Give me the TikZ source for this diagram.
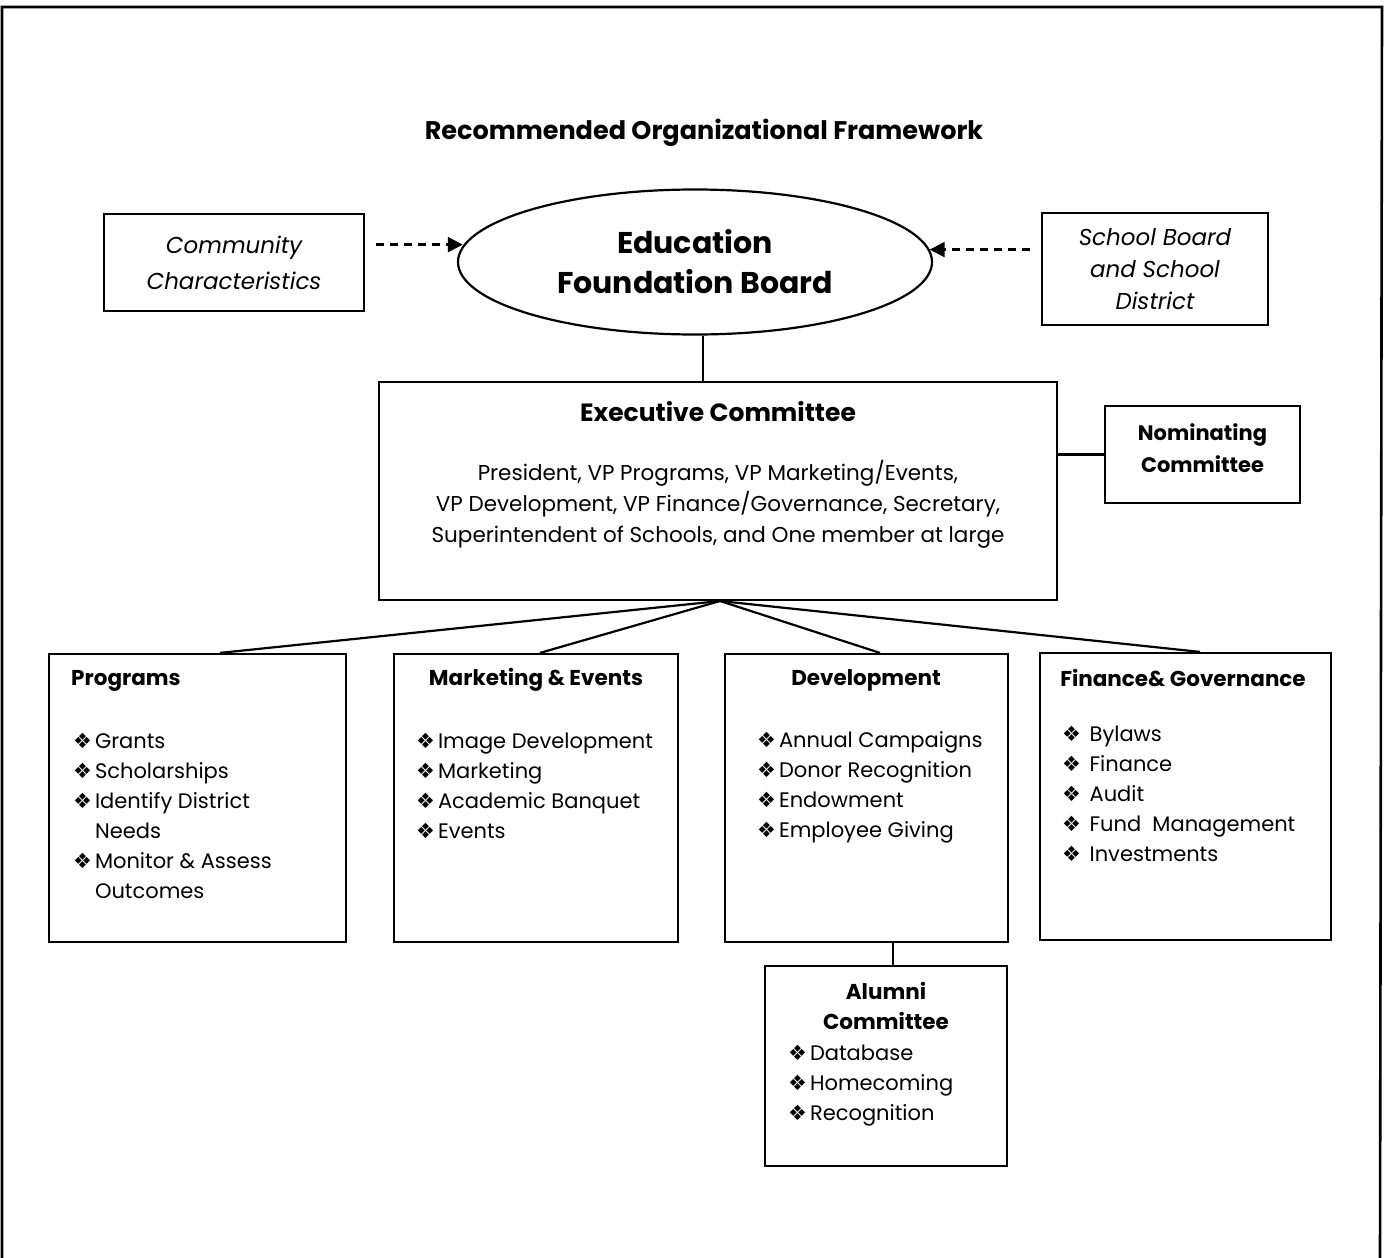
\documentclass[tikz,border=0pt]{standalone}
\usepackage{fontspec}
\setmainfont{Poppins}
\newfontfamily\symfont{DejaVu Sans}
\usetikzlibrary{shapes.geometric,arrows.meta,calc}
\newcommand{\bul}{{\symfont\fontsize{21}{21}\selectfont\char"2756}\kern3pt}
\newcommand{\nobul}{\phantom{\bul}}
\begin{document}
\begin{tikzpicture}[x=1pt,y=-1pt,
  frame/.style={line width=2.6pt},
  box/.style={draw, line width=2.2pt, rectangle, inner sep=0pt},
  conn/.style={line width=2.2pt},
  darrow/.style={line width=2.4pt, dash pattern=on 8pt off 6pt, shorten <=11pt, -{Triangle[length=15pt,width=15pt]}},
  body/.style={inner sep=0pt, font=\fontsize{21}{30}\selectfont},
  head/.style={inner sep=0pt, font=\fontsize{21.5}{30}\selectfont\bfseries},
  lst/.style={body, align=left, anchor=base west},
]
\useasboundingbox (0,0) rectangle (1385,1258);
\fill[white] (0,0) rectangle (1385,1258);
% outer frame (open at bottom)
\draw[frame] (2,1258) -- (2,7) -- (1382,7) -- (1380,1258);

% title
\node[inner sep=0pt, font=\fontsize{25.5}{30}\selectfont\bfseries] (title) at (704,133) {Recommended Organizational Framework};

% top row
\node[box, minimum width=260pt, minimum height=97pt, align=center,
      font=\fontsize{23}{36}\selectfont\itshape] (cc) at (234,262.5) {Community\\Characteristics};
\node[draw, line width=2.2pt, ellipse, minimum width=474pt, minimum height=145pt, inner sep=0pt,
      align=center, font=\fontsize{30}{40}\selectfont\bfseries] (efb) at (695,262) {Education\\Foundation Board};
\node[box, minimum width=226pt, minimum height=112pt, align=center,
      font=\fontsize{23}{32}\selectfont\itshape] (sb) at (1155,269) {School Board\\and School\\District};

\draw[darrow] ($(cc.north east)!0.32!(cc.south east)$) coordinate (ca) -- (ca -| efb.176);
\draw[darrow] ($(sb.north west)!0.33!(sb.south west)$) coordinate (sa) -- (sa -| efb.3);

% executive committee
\node[box, minimum width=678pt, minimum height=218pt] (ex) at (718,491) {};
\node[inner sep=0pt, font=\fontsize{25}{30}\selectfont\bfseries] (exh) at (718,412) {Executive Committee};
\node[inner sep=0pt, font=\fontsize{21.5}{31}\selectfont, align=center] (exb) at (718,504) {President, VP Programs, VP Marketing/Events,\\VP Development, VP Finance/Governance, Secretary,\\Superintendent of Schools, and One member at large};
\draw[conn] (efb.south -| 703,0) -- (ex.north -| 703,0);

% nominating
\node[box, minimum width=195pt, minimum height=97pt] (nom) at (1202.5,454.5) {};
\node[inner sep=0pt, align=center, font=\fontsize{21}{32}\selectfont\bfseries] (nomt) at (1202.5,448) {Nominating\\Committee};
\draw[conn] (nom.west -| ex.east) -- (nom.west);

% committee boxes
\node[box, minimum width=297pt, minimum height=288pt] (pg) at (197.5,798) {};
\node[box, minimum width=284pt, minimum height=288pt] (mk) at (536,798) {};
\node[box, minimum width=283pt, minimum height=288pt] (dv) at (866.5,798) {};
\node[box, minimum width=291pt, minimum height=287pt] (fg) at (1185.5,796.5) {};
\node[box, minimum width=242pt, minimum height=200pt] (al) at (886,1066) {};

\coordinate (exb0) at (720,601);
\draw[conn] (exb0) -- (pg.north -| 220,0);
\draw[conn] (exb0) -- (mk.north -| 540,0);
\draw[conn] (exb0) -- (dv.north -| 880,0);
\draw[conn] (exb0) -- (fg.north -| 1200,0);
\draw[conn] (dv.south -| 893,0) -- (al.north -| 893,0);

% headings
\node[head, anchor=west] (pgh) at (71,681) {Programs};
\node[head] (mkh) at (536,680) {Marketing \& Events};
\node[head] (dvh) at (866,680) {Development};
\node[head] (fgh) at (1183,678) {Finance\& Governance};
\node[head, align=center] (alh) at (886,1006) {Alumni\\Committee};

% lists (base anchor = baseline of last line)
\node[lst] (pgl) at (73,898) {\bul Grants\\\bul Scholarships\\\bul Identify District\\\nobul Needs\\\bul Monitor \& Assess\\\nobul Outcomes};
\node[lst] (mkl) at (416,838) {\bul Image Development\\\bul Marketing\\\bul Academic Banquet\\\bul Events};
\node[lst] (dvl) at (757,837) {\bul Annual Campaigns\\\bul Donor Recognition\\\bul Endowment\\\bul Employee Giving};
\node[lst] (fgl) at (1062,861) {\bul\ Bylaws\\\bul\ Finance\\\bul\ Audit\\\bul\ Fund~ Management\\\bul\ Investments};
\node[lst] (all) at (788,1120) {\bul Database\\\bul Homecoming\\\bul Recognition};
\end{tikzpicture}
\end{document}
